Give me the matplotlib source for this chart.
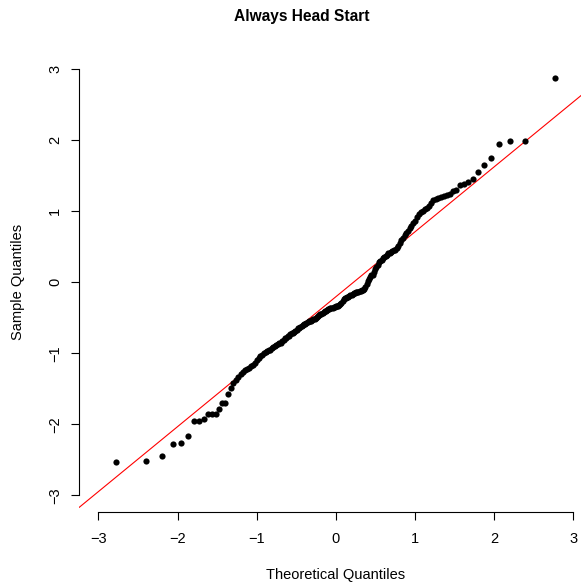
import matplotlib
matplotlib.use("Agg")
import matplotlib.pyplot as plt
import numpy as np
from statistics import NormalDist

# sorted sample values (qqnorm of 179 obs)
sample = [
    -2.53, -2.52, -2.45, -2.28, -2.26, -2.16, -1.95, -1.95, -1.92, -1.86,
    -1.86, -1.855, -1.78, -1.70, -1.70, -1.58, -1.49, -1.42, -1.37, -1.33,
    -1.29, -1.26, -1.24, -1.22, -1.20, -1.18, -1.16, -1.13, -1.10, -1.07,
    -1.04, -1.02, -1.00, -0.98, -0.97, -0.96, -0.95, -0.93, -0.91, -0.89,
    -0.88, -0.87, -0.86, -0.85, -0.83, -0.81, -0.79, -0.78, -0.76, -0.75,
    -0.73, -0.72, -0.71, -0.70, -0.68, -0.67, -0.65, -0.64, -0.625, -0.61,
    -0.60, -0.59, -0.58, -0.57, -0.56, -0.55, -0.54, -0.54, -0.53, -0.52,
    -0.51, -0.50, -0.49, -0.48, -0.46, -0.45, -0.44, -0.43, -0.42, -0.41,
    -0.40, -0.39, -0.38, -0.37, -0.365, -0.36, -0.355, -0.35, -0.345, -0.34,
    -0.335, -0.33, -0.32, -0.31, -0.29, -0.26, -0.24, -0.225, -0.215, -0.21,
    -0.20, -0.19, -0.18, -0.175, -0.165, -0.155, -0.15, -0.14, -0.135, -0.13,
    -0.125, -0.12, -0.115, -0.11, -0.10, -0.06, -0.02, 0.02, 0.05, 0.08,
    0.10, 0.11, 0.14, 0.19, 0.22, 0.25, 0.28, 0.30, 0.32, 0.34,
    0.35, 0.37, 0.39, 0.41, 0.42, 0.43, 0.44, 0.45, 0.46, 0.48,
    0.51, 0.56, 0.60, 0.63, 0.66, 0.69, 0.72, 0.76, 0.80, 0.83,
    0.87, 0.92, 0.96, 0.99, 1.01, 1.03, 1.05, 1.08, 1.12, 1.16,
    1.18, 1.19, 1.20, 1.21, 1.23, 1.24, 1.28, 1.30, 1.37, 1.385,
    1.42, 1.46, 1.55, 1.65, 1.75, 1.95, 1.99, 1.99, 2.875,
]
ticks = [-3, -2, -1, 0, 1, 2, 3]
title = "Always Head Start"

# theoretical quantiles like R's qqnorm (ppoints)
n = len(sample)
nd = NormalDist()
theo = np.array([nd.inv_cdf((i + 0.5) / n) for i in range(n)])
y = np.array(sample)

# qqline: through the first and third quartiles
q1, q3 = np.percentile(y, [25, 75])
z1, z3 = nd.inv_cdf(0.25), nd.inv_cdf(0.75)
slope = (q3 - q1) / (z3 - z1)
intercept = q1 - slope * z1

plt.rcParams['font.family'] = ['Liberation Sans', 'DejaVu Sans']

fig = plt.figure(figsize=(5.81, 5.88), dpi=100)
ax = fig.add_axes([0.1365, 0.1287, 0.8833, 0.7823])

ax.scatter(theo, y, s=20, color='black', linewidths=0, zorder=3)
ax.axline((0, intercept), slope=slope, color='red', lw=0.8, zorder=2)

ax.set_xlim(-3.24, 3.24)
ax.set_ylim(-3.24, 3.24)
ax.set_xticks(ticks)
ax.set_yticks(ticks)

for s in ['top', 'right']:
    ax.spines[s].set_visible(False)
ax.spines['left'].set_bounds(-3, 3)
ax.spines['bottom'].set_bounds(-3, 3)
for s in ['left', 'bottom']:
    ax.spines[s].set_linewidth(0.8)

ax.tick_params(direction='out', length=5.5, width=0.8, labelsize=10.5, pad=9)
for lab in ax.get_yticklabels():
    lab.set_rotation(90)
    lab.set_va('center')
    lab.set_ha('center')
ax.tick_params(axis='y', pad=12)

ax.set_xlabel("Theoretical Quantiles", fontsize=10.5)
ax.xaxis.set_label_coords(0.5, -0.136)
ax.xaxis.label.set_va('center')
ax.set_ylabel("Sample Quantiles", fontsize=10.5)
ax.yaxis.set_label_coords(-0.119, 0.5)
ax.yaxis.label.set_va('center')

fig.text(302 / 581, 1 - 17 / 588, title, ha='center', va='center',
         fontsize=11.2, fontweight='bold')

fig.savefig("out.png", dpi=100)
